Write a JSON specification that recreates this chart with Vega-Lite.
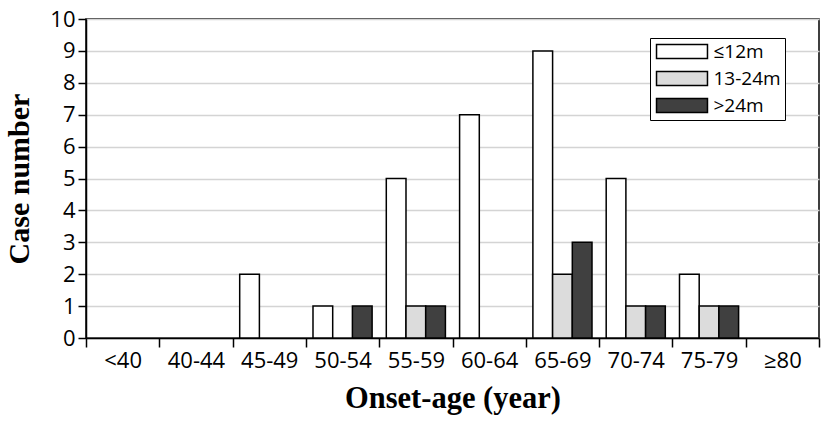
{
  "$schema": "https://vega.github.io/schema/vega-lite/v6.json",
  "width": 733,
  "height": 319,
  "autosize": "none",
  "padding": {"left": 86, "top": 19, "right": 10, "bottom": 91},
  "background": "white",
  "config": {
    "view": {"stroke": "black", "strokeWidth": 1.5},
    "font": "Open Sans"
  },
  "data": {
    "values": [
      {"age": "45-49", "group": "≤12m", "cases": 2},
      {"age": "50-54", "group": "≤12m", "cases": 1},
      {"age": "50-54", "group": ">24m", "cases": 1},
      {"age": "55-59", "group": "≤12m", "cases": 5},
      {"age": "55-59", "group": "13-24m", "cases": 1},
      {"age": "55-59", "group": ">24m", "cases": 1},
      {"age": "60-64", "group": "≤12m", "cases": 7},
      {"age": "65-69", "group": "≤12m", "cases": 9},
      {"age": "65-69", "group": "13-24m", "cases": 2},
      {"age": "65-69", "group": ">24m", "cases": 3},
      {"age": "70-74", "group": "≤12m", "cases": 5},
      {"age": "70-74", "group": "13-24m", "cases": 1},
      {"age": "70-74", "group": ">24m", "cases": 1},
      {"age": "75-79", "group": "≤12m", "cases": 2},
      {"age": "75-79", "group": "13-24m", "cases": 1},
      {"age": "75-79", "group": ">24m", "cases": 1}
    ]
  },
  "mark": {"type": "bar", "stroke": "black", "strokeWidth": 1.5},
  "encoding": {
    "x": {
      "field": "age",
      "type": "nominal",
      "sort": null,
      "scale": {
        "domain": ["<40", "40-44", "45-49", "50-54", "55-59", "60-64", "65-69", "70-74", "75-79", "≥80"],
        "paddingInner": 0,
        "paddingOuter": 0
      },
      "axis": {
        "title": "Onset-age (year)",
        "titleFont": "Liberation Serif",
        "titleFontSize": 30.5,
        "titleFontWeight": "bold",
        "titleColor": "black",
        "titlePadding": 12,
        "labelAngle": 0,
        "labelFont": "Open Sans",
        "labelFontSize": 22,
        "labelColor": "black",
        "labelPadding": 3,
        "tickBand": "extent",
        "tickSize": 9,
        "tickColor": "black",
        "tickWidth": 1.5,
        "domainColor": "black",
        "domainWidth": 1.5
      }
    },
    "xOffset": {
      "field": "group",
      "type": "nominal",
      "scale": {"domain": ["≤12m", "13-24m", ">24m"], "paddingInner": 0, "paddingOuter": 0.36}
    },
    "y": {
      "field": "cases",
      "type": "quantitative",
      "scale": {"domain": [0, 10]},
      "axis": {
        "title": "Case number",
        "titleFont": "Liberation Serif",
        "titleFontSize": 30,
        "titleFontWeight": "bold",
        "titleColor": "black",
        "titlePadding": 15,
        "values": [0, 1, 2, 3, 4, 5, 6, 7, 8, 9, 10],
        "labelFont": "Open Sans",
        "labelFontSize": 22,
        "labelColor": "black",
        "labelPadding": 3,
        "tickSize": 8,
        "tickColor": "black",
        "tickWidth": 1.5,
        "domainColor": "black",
        "domainWidth": 1.5,
        "grid": true,
        "gridColor": "#d4d4d4",
        "gridWidth": 1.5
      }
    },
    "color": {
      "field": "group",
      "type": "nominal",
      "scale": {"domain": ["≤12m", "13-24m", ">24m"], "range": ["#ffffff", "#dcdcdc", "#404040"]},
      "legend": {
        "title": null,
        "orient": "none",
        "legendX": 564,
        "legendY": 19,
        "padding": 4,
        "strokeColor": "black",
        "fillColor": "white",
        "symbolType": "M-3.64,-1H3.64V1H-3.64Z",
        "symbolSize": 196,
        "symbolOffset": 18.5,
        "symbolStrokeColor": "black",
        "symbolStrokeWidth": 1.5,
        "labelFont": "Open Sans",
        "labelFontSize": 19,
        "labelColor": "black",
        "labelOffset": 22,
        "rowPadding": 6
      }
    }
  }
}
